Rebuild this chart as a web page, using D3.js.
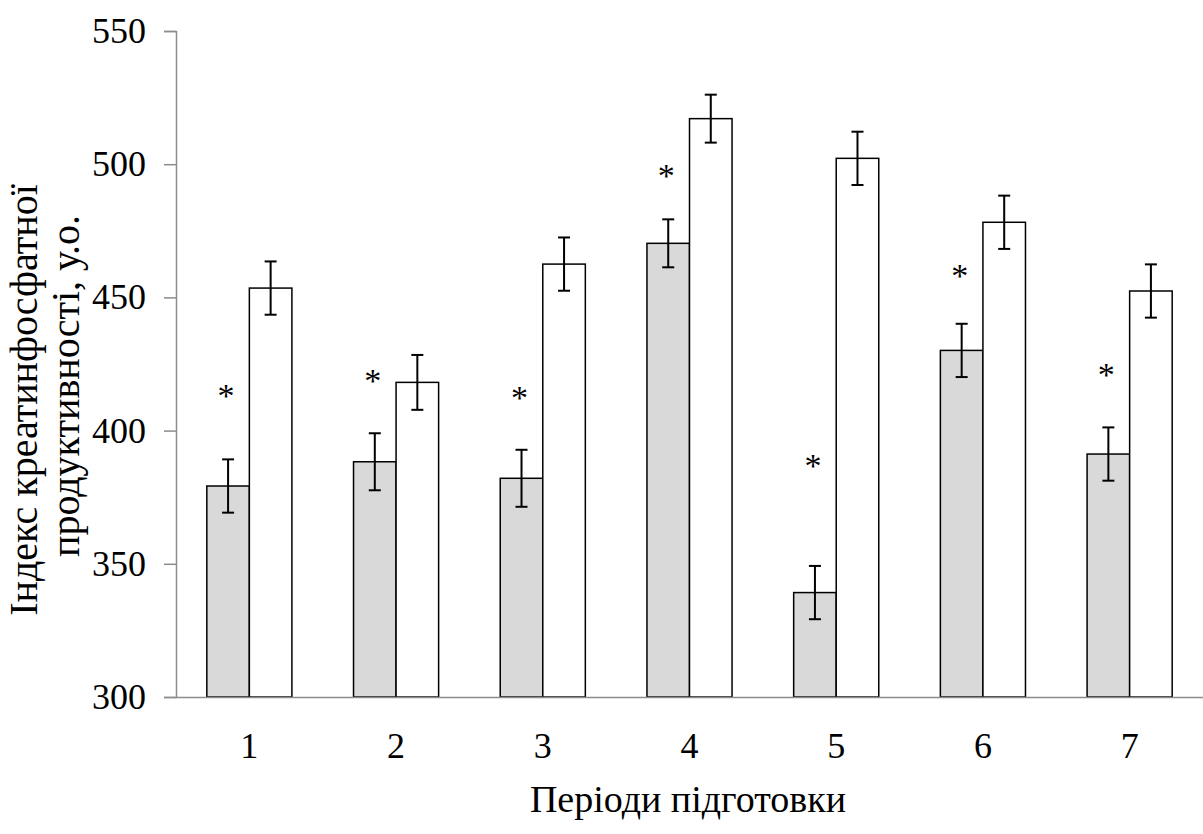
<!DOCTYPE html>
<html>
<head>
<meta charset="utf-8">
<script src="https://cdn.jsdelivr.net/npm/d3@7"></script>
<style>
  html, body { margin: 0; padding: 0; background: #fff; }
  svg { display: block; }
  text { font-family: "Liberation Serif", "Times New Roman", serif; fill: #000; }
</style>
</head>
<body>
<svg id="chart" width="1203" height="834"></svg>
<script>
// ---- data ----
const categories = ["1", "2", "3", "4", "5", "6", "7"];
const seriesA = [379.2, 388.3, 382.1, 470.3, 339.2, 430.1, 391.2];   // grey bars
const errorsA = [10, 10.7, 10.7, 9, 10, 10, 10];
const seriesB = [453.5, 418.1, 462.5, 517.1, 502.2, 478.2, 452.4];   // white bars
const errorsB = [10, 10.3, 10, 9, 10, 10, 10];
const starLevels = [415.2, 420.8, 414.6, 497.8, 389, 460.3, 423.1];   // "*" marks (value units)
const yTicks = [300, 350, 400, 450, 500, 550];
const xTitle = "Періоди підготовки";
const yTitle = ["Індекс креатинфосфатної", "продуктивності, у.о."];

(function () {
// ---- layout ----
const svg = d3.select("#chart");
const mLeft = 176, mRight = 1203, mTop = 31, mBottom = 697;

const x0 = d3.scaleBand().domain(categories).range([mLeft, mRight])
  .paddingInner(0.42).paddingOuter(0.21);
const x1 = d3.scaleBand().domain(["A", "B"]).range([0, x0.bandwidth()]);
const y = d3.scaleLinear().domain([300, 550]).range([mBottom, mTop]);

const rows = categories.map((c, i) => ({
  c, a: seriesA[i], ea: errorsA[i], b: seriesB[i], eb: errorsB[i], star: starLevels[i]
}));

// bars
const g = svg.append("g");
const series = [
  { key: "A", val: d => d.a, err: d => d.ea, fill: "#d9d9d9" },
  { key: "B", val: d => d.b, err: d => d.eb, fill: "#ffffff" }
];
series.forEach(s => {
  g.selectAll(null).data(rows).enter().append("rect")
    .attr("x", d => x0(d.c) + x1(s.key))
    .attr("y", d => y(s.val(d)))
    .attr("width", x1.bandwidth())
    .attr("height", d => y(300) - y(s.val(d)))
    .attr("fill", s.fill)
    .attr("stroke", "#000")
    .attr("stroke-width", 1.5);
});

// error bars
const capW = 6;
series.forEach(s => {
  const eg = g.selectAll(null).data(rows).enter().append("g")
    .attr("stroke", "#000").attr("stroke-width", 2);
  const cx = d => x0(d.c) + x1(s.key) + x1.bandwidth() / 2;
  eg.append("line").attr("x1", cx).attr("x2", cx)
    .attr("y1", d => y(s.val(d) + s.err(d))).attr("y2", d => y(s.val(d) - s.err(d)));
  eg.append("line").attr("x1", d => cx(d) - capW).attr("x2", d => cx(d) + capW)
    .attr("y1", d => y(s.val(d) + s.err(d))).attr("y2", d => y(s.val(d) + s.err(d)));
  eg.append("line").attr("x1", d => cx(d) - capW).attr("x2", d => cx(d) + capW)
    .attr("y1", d => y(s.val(d) - s.err(d))).attr("y2", d => y(s.val(d) - s.err(d)));
});

// asterisks
g.selectAll(null).data(rows).enter().append("text")
  .attr("x", d => x0(d.c) + x1("A") + x1.bandwidth() / 2 - 2)
  .attr("y", d => y(d.star) + 17)
  .attr("text-anchor", "middle")
  .attr("font-size", 34)
  .text("*");

// y axis
const yAxis = svg.append("g").attr("transform", `translate(${mLeft},0)`)
  .call(d3.axisLeft(y).tickValues(yTicks).tickSize(12).tickPadding(18).tickFormat(d3.format("d")));
yAxis.select(".domain").attr("stroke", "#8c8c8c").attr("stroke-width", 1.5);
yAxis.selectAll(".tick line").attr("stroke", "#8c8c8c").attr("stroke-width", 1.5);
yAxis.selectAll(".tick text").attr("font-size", 36).attr("font-family", "Liberation Serif").attr("fill", "#000");

// x axis
const xAxis = svg.append("g").attr("transform", `translate(0,${mBottom})`)
  .call(d3.axisBottom(x0).tickSize(0).tickPadding(35));
xAxis.select(".domain").attr("stroke", "#8c8c8c").attr("stroke-width", 1.5);
xAxis.selectAll(".tick text").attr("font-size", 36).attr("font-family", "Liberation Serif").attr("fill", "#000");

// titles
svg.append("text")
  .attr("x", 688)
  .attr("y", 812)
  .attr("text-anchor", "middle")
  .attr("font-size", 38)
  .text(xTitle);

const ytg = svg.append("g").attr("transform", "translate(37,392) rotate(-90)");
ytg.append("text").attr("x", -8).attr("y", 0).attr("text-anchor", "middle")
  .attr("font-size", 40).text(yTitle[0]);
ytg.append("text").attr("x", 6).attr("y", 42).attr("text-anchor", "middle")
  .attr("font-size", 40).text(yTitle[1]);
})();
</script>
</body>
</html>
